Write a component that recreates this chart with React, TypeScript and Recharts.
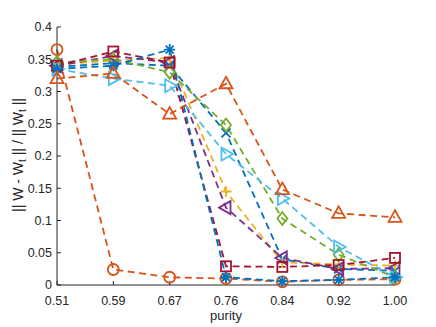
import { LineChart, Line, XAxis, YAxis } from "recharts";

const purity = ["0.51", "0.59", "0.67", "0.76", "0.84", "0.92", "1.00"];
const yTicks = [0, 0.05, 0.1, 0.15, 0.2, 0.25, 0.3, 0.35, 0.4];

// one array per run, same order as purity
const crossBlue = [0.338, 0.344, 0.34, 0.236, 0.04, 0.025, 0.022];
const circleOrange = [0.365, 0.024, 0.012, 0.01, 0.005, 0.008, 0.009];
const plusYellow = [0.342, 0.348, 0.352, 0.145, 0.035, 0.032, 0.03];
const leftPurple = [0.34, 0.355, 0.345, 0.12, 0.042, 0.025, 0.026];
const diamondGreen = [0.345, 0.35, 0.33, 0.248, 0.103, 0.047, 0.012];
const rightLightBlue = [0.335, 0.32, 0.309, 0.203, 0.134, 0.059, 0.012];
const squareRed = [0.34, 0.362, 0.345, 0.029, 0.028, 0.031, 0.042];
const starBlue = [0.335, 0.34, 0.365, 0.012, 0.006, 0.008, 0.012];
const triangleOrange = [0.32, 0.328, 0.265, 0.312, 0.148, 0.111, 0.105];

const series = [
  { key: "crossBlue", values: crossBlue, color: "#0072BD", marker: "x" },
  { key: "circleOrange", values: circleOrange, color: "#D95319", marker: "o" },
  { key: "plusYellow", values: plusYellow, color: "#EDB120", marker: "+" },
  { key: "leftPurple", values: leftPurple, color: "#7E2F8E", marker: "<" },
  { key: "diamondGreen", values: diamondGreen, color: "#77AC30", marker: "d" },
  { key: "rightLightBlue", values: rightLightBlue, color: "#4DBEEE", marker: ">" },
  { key: "squareRed", values: squareRed, color: "#A2142F", marker: "s" },
  { key: "starBlue", values: starBlue, color: "#0072BD", marker: "*" },
  { key: "triangleOrange", values: triangleOrange, color: "#D95319", marker: "^" },
];

const data = purity.map((p, i) => {
  const row: any = { purity: p };
  series.forEach((s) => {
    row[s.key] = s.values[i];
  });
  return row;
});

const AXIS = "#262626";
const FONT = "'Liberation Sans', Arial, sans-serif";

const Marker = ({ cx, cy, color, marker }: any) => {
  if (cx == null || cy == null) return <g />;
  const p = { fill: "none", stroke: color, strokeWidth: 1.8 };
  switch (marker) {
    case "o":
      return <circle cx={cx} cy={cy} r={5.5} {...p} />;
    case "x":
      return (
        <path d={`M${cx - 4.5},${cy - 4.5}L${cx + 4.5},${cy + 4.5}M${cx - 4.5},${cy + 4.5}L${cx + 4.5},${cy - 4.5}`} {...p} />
      );
    case "+":
      return <path d={`M${cx - 5.5},${cy}L${cx + 5.5},${cy}M${cx},${cy - 5.5}L${cx},${cy + 5.5}`} {...p} />;
    case "*":
      return (
        <path
          d={`M${cx - 5.5},${cy}L${cx + 5.5},${cy}M${cx},${cy - 5.5}L${cx},${cy + 5.5}M${cx - 4},${cy - 4}L${cx + 4},${cy + 4}M${cx - 4},${cy + 4}L${cx + 4},${cy - 4}`}
          {...p}
        />
      );
    case "s":
      return <rect x={cx - 5} y={cy - 5} width={10} height={10} {...p} />;
    case "d":
      return <path d={`M${cx},${cy - 6.5}L${cx + 5},${cy}L${cx},${cy + 6.5}L${cx - 5},${cy}Z`} {...p} />;
    case "^":
      return <path d={`M${cx},${cy - 7}L${cx + 6.5},${cy + 4.5}L${cx - 6.5},${cy + 4.5}Z`} {...p} />;
    case ">":
      return <path d={`M${cx + 7},${cy}L${cx - 4.5},${cy + 6.5}L${cx - 4.5},${cy - 6.5}Z`} {...p} />;
    case "<":
      return <path d={`M${cx - 7},${cy}L${cx + 4.5},${cy + 6.5}L${cx + 4.5},${cy - 6.5}Z`} {...p} />;
    default:
      return <g />;
  }
};

const YLabel = () => (
  <text
    x={18}
    y={155}
    transform="rotate(-90 18 155)"
    textAnchor="middle"
    dominantBaseline="central"
    fill={AXIS}
    fontSize={14}
    fontFamily={FONT}
  >
    || W - W<tspan fontSize={10} dy={4}>t</tspan>
    <tspan dy={-4}> || / || W</tspan>
    <tspan fontSize={10} dy={4}>t</tspan>
    <tspan dy={-4}> ||</tspan>
  </text>
);

const fmt = (v: number) => String(Math.round(v * 100) / 100);

export default function App() {
  return (
    <div style={{ position: "absolute", left: 0, top: 0, background: "#fff" }}>
      <LineChart width={436} height={327} data={data} margin={{ top: 27, right: 41, bottom: 0, left: 0 }}>
        <XAxis
          dataKey="purity"
          interval={0}
          stroke={AXIS}
          tickSize={-4}
          tickMargin={15}
          height={42}
          tick={{ fill: AXIS, fontSize: 12.5, fontFamily: FONT }}
          label={{ value: "purity", position: "insideBottom", offset: 7, fill: AXIS, fontSize: 13, fontFamily: FONT }}
        />
        <XAxis xAxisId="top" dataKey="purity" orientation="top" height={0} stroke={AXIS} tickSize={-4} tick={false} />
        <YAxis
          domain={[0, 0.4]}
          ticks={yTicks}
          type="number"
          width={57}
          stroke={AXIS}
          tickSize={-4}
          tickMargin={9}
          tickFormatter={fmt}
          tick={{ fill: AXIS, fontSize: 12.5, fontFamily: FONT }}
          label={{ content: <YLabel /> }}
        />
        <YAxis
          yAxisId="right"
          orientation="right"
          domain={[0, 0.4]}
          ticks={yTicks}
          type="number"
          width={0}
          stroke={AXIS}
          tickSize={-4}
          tick={false}
        />
        {series.map((s) => (
          <Line
            key={s.key}
            dataKey={s.key}
            stroke={s.color}
            strokeWidth={1.8}
            strokeDasharray="7 4.5"
            isAnimationActive={false}
            dot={(props: any) => <Marker key={`${s.key}-${props.index}`} cx={props.cx} cy={props.cy} color={s.color} marker={s.marker} />}
            activeDot={false}
          />
        ))}
      </LineChart>
    </div>
  );
}
